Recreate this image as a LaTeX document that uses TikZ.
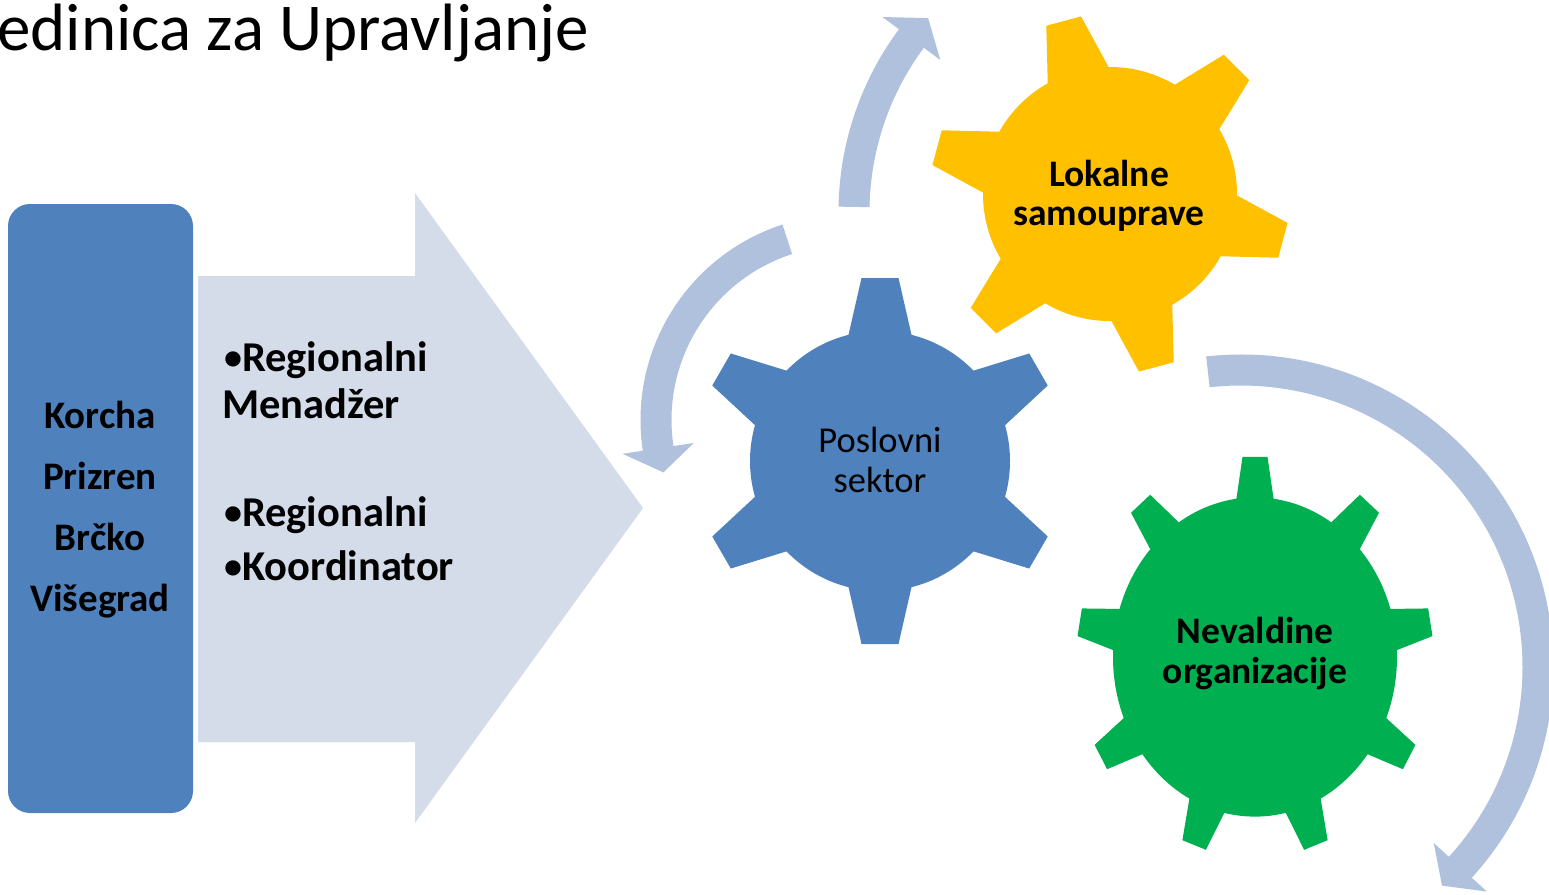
\documentclass[tikz,border=0pt]{standalone}
\usepackage{fontspec}
\setmainfont{Carlito}
\usetikzlibrary{calc}
\definecolor{gblue}{RGB}{79,129,189}
\definecolor{gyellow}{RGB}{255,192,0}
\definecolor{ggreen}{RGB}{0,176,80}
\definecolor{carrow}{RGB}{176,193,221}
\definecolor{bigarrow}{RGB}{212,220,234}
\tikzset{
 leftbox/.style={fill=gblue, rounded corners=22pt, minimum width=185pt, minimum height=609pt, inner sep=0pt},
 boxtext/.style={font=\fontsize{39}{47}\selectfont\bfseries, anchor=base, inner sep=0pt},
 bultext/.style={font=\fontsize{42.5}{50}\selectfont\bfseries, anchor=base west, inner sep=0pt},
 geartext/.style={font=\fontsize{36.5}{40}\selectfont, anchor=base, inner sep=0pt},
 geartextb/.style={font=\fontsize{37.5}{40}\selectfont\bfseries, anchor=base, inner sep=0pt},
 titletext/.style={font=\fontsize{67}{79}\selectfont, anchor=base west, inner sep=0pt},
 bandarrow/.style={fill=carrow},
}
\newcommand{\bul}{{\fontsize{36}{36}\selectfont\raisebox{1.5pt}{•}}}
\newcommand{\circarrow}[5]{%
 \fill[bandarrow] (#1) ++(#3:{#2+15.5}) arc[start angle=#3, end angle=#4, radius={#2+15.5}]
   -- ($(#1)+(#4:{#2+36})$) -- ($(#1)+(#5:#2)$) -- ($(#1)+(#4:{#2-36})$)
   -- ($(#1)+(#4:{#2-15.5})$) arc[start angle=#4, end angle=#3, radius={#2-15.5}] -- cycle;
}
\begin{document}
\begin{tikzpicture}[x=1pt,y=1pt]
\useasboundingbox (0,-894) rectangle (1549,0);
\clip (0,-894) rectangle (1549,0);
\fill[white] (0,-894) rectangle (1549,0);

% title
\node[titletext] (title) at (-3,-50) {edinica za Upravljanje};

% big arrow
\fill[bigarrow] (198,-276) -- (415,-276) -- (415,-193) -- (643,-508) -- (415,-823) -- (415,-742) -- (198,-742) -- cycle;

% left box
\node[leftbox] (box) at (100.5,-508.5) {};
\node[boxtext] (t1) at (100,-428) {Korcha};
\node[boxtext] (t2) at (100,-489) {Prizren};
\node[boxtext] (t3) at (100,-550) {Brčko};
\node[boxtext] (t4) at (100,-611) {Višegrad};

% bullets
\node[bultext] (b1) at (224,-371) {\bul Regionalni};
\node[bultext] (b2) at (222,-418) {Menadžer};
\node[bultext] (b3) at (224,-526) {\bul Regionalni};
\node[bultext] (b4) at (224,-580) {\bul Koordinator};

% circular arrows
\coordinate (ctop) at (1145,-212);
\coordinate (cleft) at (846,-420);
\coordinate (cright) at (1241,-667);
\circarrow{ctop}{291}{179}{143.4}{138.2}
\circarrow{cleft}{190}{108}{188.6}{196}
\circarrow{cright}{297}{96.4}{-42.4}{-47.4}

% blue gear
\begin{scope}[shift={(880,-461)}]
 \fill[gblue] (0,0) circle (130);
 \foreach \a in {30,90,...,330}
  \fill[gblue, rotate=\a] (106,-36.1) -- (183,-18.5) -- (183,18.5) -- (106,36.1) -- cycle;
\end{scope}
% yellow gear
\begin{scope}[shift={(1110,-194)}]
 \fill[gyellow] (0,0) circle (127);
 \foreach \a in {45,105,...,345}
  \fill[gyellow, rotate=\a] (103,-36.3) -- (179,-18) -- (179,18) -- (103,36.3) -- cycle;
\end{scope}
% green gear
\begin{scope}[shift={(1255,-657)}, yscale=1.124]
 \fill[ggreen] (0,0) circle (142);
 \foreach \a in {10,50,...,330}
  \fill[ggreen, rotate=\a] (120,-22) -- (178,-12.5) -- (178,12.5) -- (120,22) -- cycle;
\end{scope}

% gear texts
\node[geartext] (p1) at (880,-452) {Poslovni};
\node[geartext] (p2) at (880,-492) {sektor};
\node[geartextb] (l1) at (1109,-186) {Lokalne};
\node[geartextb] (l2) at (1109,-225) {samouprave};
\node[geartextb] (n1) at (1255,-643) {Nevaldine};
\node[geartextb] (n2) at (1255,-683) {organizacije};
\end{tikzpicture}
\end{document}
